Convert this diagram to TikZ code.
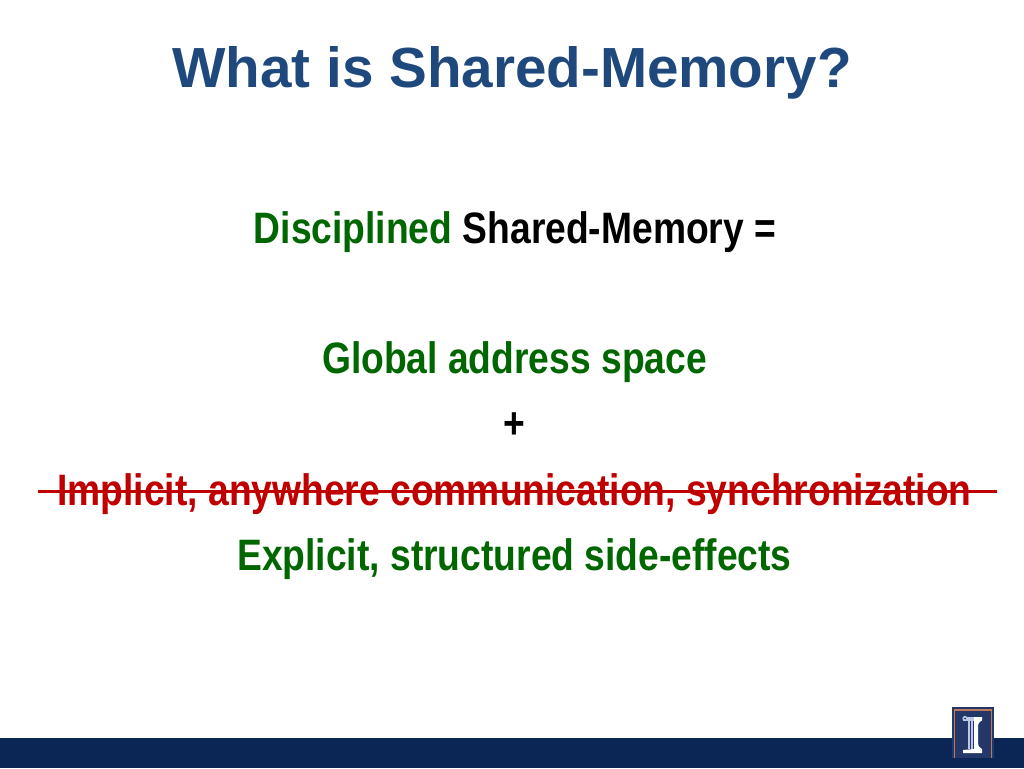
\documentclass[tikz,border=0pt]{standalone}
\usepackage{fontspec}
\setmainfont{Liberation Sans}
\definecolor{titleblue}{RGB}{31,73,125}
\definecolor{dgreen}{RGB}{0,102,0}
\definecolor{dred}{RGB}{192,0,0}
\definecolor{navy}{RGB}{11,38,84}
\definecolor{logoblue}{RGB}{35,55,105}
\definecolor{logoorange}{RGB}{190,120,90}
\definecolor{logopale}{RGB}{190,200,230}
\tikzset{
 every node/.style={inner sep=0pt,outer sep=0pt},
 line/.style={font=\bfseries\fontsize{44}{52}\selectfont,anchor=base},
}
\newcommand{\narrow}[2]{\scalebox{#1}[1]{#2}}
\begin{document}
\begin{tikzpicture}[x=1pt,y=-1pt]
\path[use as bounding box] (0,0) rectangle (1024,768);
\fill[navy] (0,738) rectangle (1024,768);
\node[line,text=titleblue,font=\bfseries\fontsize{56.6}{64}\selectfont] (title) at (512,87) {What is Shared-Memory?};
\node[line,text=black] (a) at (515,243.5) {\narrow{0.846}{\textcolor{dgreen}{Disciplined} Shared-Memory =}};
\node[line,text=dgreen] (b) at (514.5,373.5) {\narrow{0.846}{Global address space}};
\node[line,text=black] (c) at (514,438) {\narrow{0.846}{+}};
\node[line,text=dred] (d) at (514.5,505) {\narrow{0.846}{Implicit, anywhere communication, synchronization}};
\node[line,text=dgreen] (e) at (514.5,570.5) {\narrow{0.846}{Explicit, structured side-effects}};
\coordinate (s1) at (38,491.5);
\coordinate (s2) at (997,491.5);
\draw[dred,line width=2.5pt] (s1) -- (s2);
% logo
\fill[logoblue] (952,707) rectangle (994,758);
\draw[logoorange,line width=1.6pt] (954.5,758) -- (954.5,710) -- (991.5,710) -- (991.5,758);
\fill[logopale] (963,717) rectangle (982,720.5);
\fill[logopale] (965,718.5) circle (2.6);
\fill[logoblue] (965,718.5) circle (1);
\fill[white] (974,717) -- (982,717) -- (982,720) .. controls (979,721) and (978,724) .. (978,728) -- (978,741) .. controls (978,746) and (979,748) .. (982,749) -- (982,753) -- (963,753) -- (963,750) -- (974,749) -- cycle;
\fill[logopale] (968,721) rectangle (969.5,749);
\fill[logopale] (971,721) rectangle (972.5,749);
\end{tikzpicture}
\end{document}
